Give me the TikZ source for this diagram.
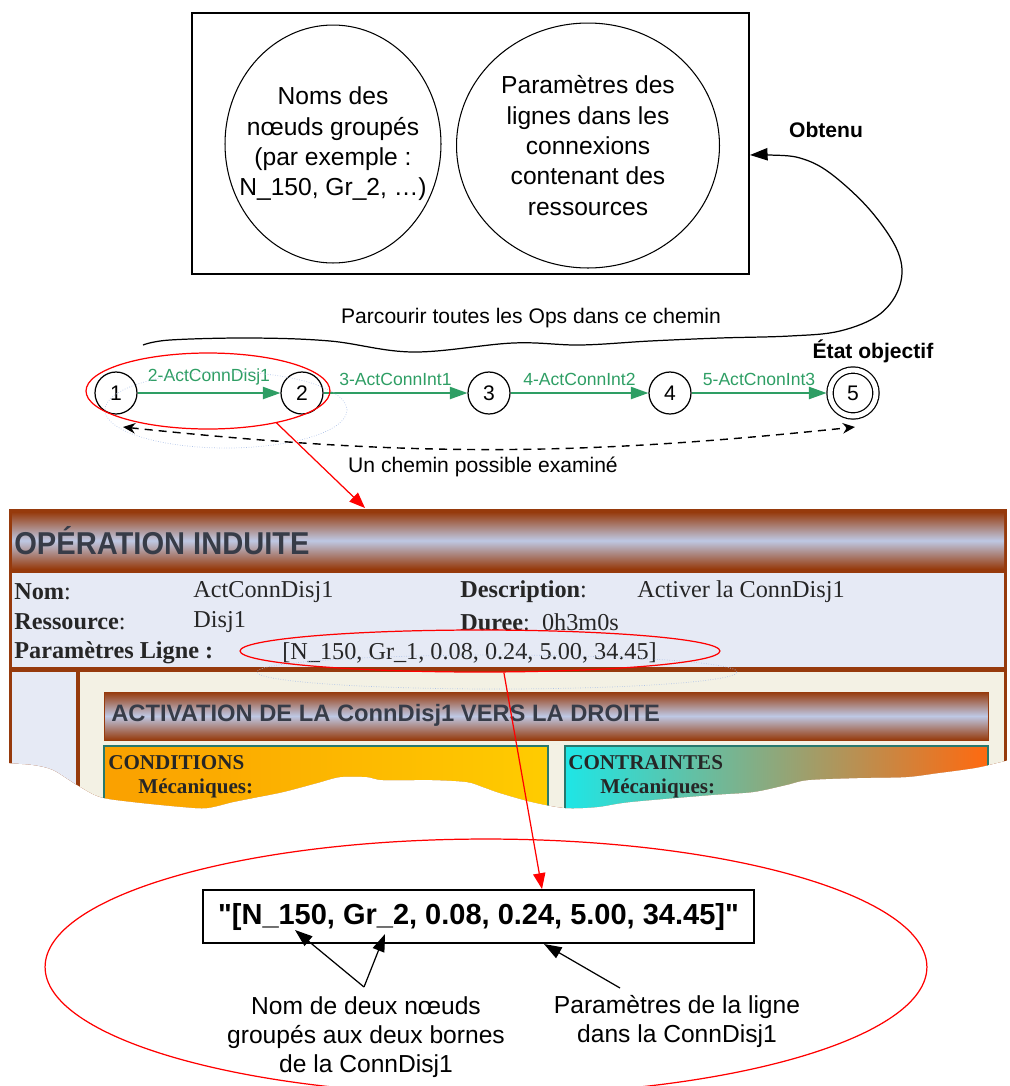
\documentclass[tikz,border=0pt]{standalone}
\usepackage{fontspec}
\setmainfont{Liberation Sans}
\newfontfamily\shotserif{Liberation Serif}
\newfontfamily\shotsans[FakeStretch=0.92]{Liberation Sans}
\newfontfamily\quotesans[Ligatures=TeXOff]{Liberation Sans}
\usetikzlibrary{arrows.meta,shapes.geometric}
\definecolor{opgreen}{RGB}{46,158,100}
\definecolor{shotbrown}{RGB}{150,58,12}
\definecolor{shotblue}{RGB}{190,200,228}
\definecolor{shotlav}{RGB}{230,234,245}
\definecolor{shotbeige}{RGB}{243,241,228}
\definecolor{shotink}{RGB}{55,60,72}
\definecolor{condorange}{RGB}{250,160,0}
\definecolor{condyellow}{RGB}{255,204,0}
\definecolor{ctcyan}{RGB}{30,230,230}
\definecolor{ctolive}{RGB}{180,160,100}
\definecolor{ctorange}{RGB}{255,105,15}
\definecolor{boxteal}{RGB}{40,120,110}
\definecolor{faintblue}{RGB}{175,195,232}

\begin{document}
\begin{tikzpicture}[x=0.02cm,y=-0.02cm,>={Triangle[length=10pt,width=7pt]},every node/.style={inner sep=0pt},
  state/.style={circle,draw,line width=0.7pt,minimum size=0.84cm,font=\fontsize{12}{14}\selectfont},
  goal/.style={state,double,double distance=0.1cm,minimum size=0.92cm,outer sep=0.07cm},
  opedge/.style={draw=opgreen,line width=0.8pt,-{Triangle[length=10pt,width=7pt]}},
  oplabel/.style={text=opgreen,font=\fontsize{10}{12}\selectfont,above=4pt},
  bubble/.style={ellipse,draw,line width=0.6pt},
  txt/.style={align=center,font=\fontsize{14}{17.3}\selectfont},
  note/.style={font=\fontsize{12}{14}\selectfont},
  hl/.style={ellipse,draw=red,line width=0.7pt},
  ghost/.style={ellipse,draw=faintblue,line width=0.4pt,densely dotted},
  redarr/.style={draw=red,line width=0.7pt,-{Triangle[length=9pt,width=7pt]}},
  back/.style={line width=0.8pt,dash pattern=on 4.5pt off 3.5pt,{Stealth[length=7pt,width=6pt]}-{Stealth[length=7pt,width=6pt]}},
  info/.style={anchor=west,text=black!85,font=\shotserif\fontsize{13.8}{16}\selectfont},
  boxhead/.style={anchor=west,text=black!85,font=\shotserif\bfseries\fontsize{12}{14}\selectfont}]
\useasboundingbox (0,0) rectangle (1009,1086);

\node[draw,line width=0.7pt,minimum width=11.14cm,minimum height=5.22cm] (panel) at (470.5,143.5) {};
\node[bubble,minimum width=4.32cm,minimum height=4.76cm] (names) at (333,144) {};
\node[bubble,minimum width=5.26cm,minimum height=4.9cm] (params) at (588,145.5) {};
\node[txt] (namestxt) at (names) {Noms des\\nœuds groupés\\(par exemple :\\N\_150, Gr\_2, …)};
\node[txt] (paramstxt) at (params) {Paramètres des\\lignes dans les\\connexions\\contenant des\\ressources};
\node[note,font=\fontsize{12}{14}\selectfont\bfseries] (obt) at (826,130) {Obtenu};
\node[note] (walk) at (531,318) {Parcourir toutes les Ops dans ce chemin};

\node[state] (n1) at (116,393) {1}; \node[state] (n2) at (302,393) {2}; \node[state] (n3) at (489,393) {3};
\node[state] (n4) at (670,393) {4}; \node[goal] (n5) at (853,393) {5};
\node[note,font=\fontsize{12}{14}\selectfont\bfseries] (goaltxt) at (873,351) {État objectif};
\draw[opedge] (n1) -- (n2) node[midway,oplabel] (e1) {2-ActConnDisj1};
\draw[opedge] (n2) -- (n3) node[midway,oplabel] (e2) {3-ActConnInt1};
\draw[opedge] (n3) -- (n4) node[midway,oplabel] (e3) {4-ActConnInt2};
\draw[opedge] (n4) -- (n5) node[midway,oplabel] (e4) {5-ActCnonInt3};
\node[ghost,minimum width=4.84cm,minimum height=1.52cm] (g1) at (226,410) {};
\node[hl,minimum width=4.88cm,minimum height=1.52cm] (hl1) at (208,391) {};
\coordinate (d1) at (123,427); \coordinate (d5) at (855,427);
\draw[back] (d1) to[bend right=6] (d5);
\node[note] (seen) at (483,467) {Un chemin possible examiné};
\draw[line width=0.7pt,->] plot[smooth,tension=0.6] coordinates {(143,345) (170,340) (250,338) (330,341) (413,352) (513,343) (580,345) (650,341) (720,338) (790,336) (840,331) (880,314) (900,285) (898,252) (870,210) (830,173) (800,158) (770,155) (750,155)};

\begin{scope}
\clip (6,500) -- (1009,500) -- plot[smooth] coordinates {(1009,760) (980,767) (961,770) (938,773) (906,777) (857,778) (808,780) (786,785) (753,792) (711,795) (630,802) (597,807) (565,808) (532,802) (500,793) (483,787) (467,782) (433,780) (383,780) (367,777) (340,777) (317,783) (283,792) (253,798) (233,802) (207,808) (183,807) (133,802) (100,797) (77,785) (53,770) (33,765) (6,763)} -- cycle;
\fill[shotbrown] (9,509) rectangle (1007,830);
\shade[top color=shotbrown,bottom color=shotbrown,middle color=shotblue] (12,512) rectangle (1004,569);
\fill[shotlav] (12,573) rectangle (1004,667);
\fill[shotlav] (12,672) rectangle (76,830);
\fill[shotbeige] (80,672) rectangle (1004,830);
\shade[top color=shotbrown,bottom color=shotbrown,middle color=shotblue,draw=shotbrown] (104,692) rectangle (988,740);
\shade[left color=condorange,right color=condyellow,draw=boxteal,line width=1pt] (104,746) rectangle (548,830);
\shade[left color=ctcyan,middle color=ctolive,right color=ctorange,draw=boxteal,line width=1pt] (565,746) rectangle (988,830);
\node[anchor=west,text=shotink,font=\shotsans\bfseries\fontsize{18}{20}\selectfont] (optitle) at (14,541) {OPÉRATION INDUITE};
\node[info] (k1) at (14,592) {\textbf{Nom}:}; \node[info] (v1) at (193,592) {ActConnDisj1};
\node[info] (k2) at (460,592) {\textbf{Description}:}; \node[info] (v2) at (637,592) {Activer la ConnDisj1};
\node[info] (k3) at (14,622) {\textbf{Ressource}:}; \node[info] (v3) at (193,622) {Disj1};
\node[info] (k4) at (460,622) {\textbf{Duree}:~~0h3m0s};
\node[info] (k5) at (14,653) {\textbf{Paramètres Ligne :}}; \node[info] (v5) at (282,653) {[N\_150, Gr\_1, 0.08, 0.24, 5.00, 34.45]};
\node[anchor=west,text=shotink,font=\bfseries\fontsize{13.5}{16}\selectfont] (acttitle) at (111,715) {ACTIVATION DE LA ConnDisj1 VERS LA DROITE};
\node[boxhead] (c1) at (108,763) {CONDITIONS}; \node[boxhead] (c2) at (138,788) {Mécaniques:};
\node[boxhead] (c3) at (568,763) {CONTRAINTES}; \node[boxhead] (c4) at (600,788) {Mécaniques:};
\end{scope}
\node[ghost,minimum width=9.6cm,minimum height=0.68cm] (g2) at (497,672) {};
\node[hl,minimum width=9.6cm,minimum height=0.84cm] (hl2) at (480,651) {};
\coordinate (shottop) at (365,508);
\draw[redarr] (hl1.-25) -- (shottop);

\node[hl,minimum width=17.64cm,minimum height=5.12cm] (hl3) at (486,967) {};
\node[draw,line width=0.7pt,minimum width=11.02cm,minimum height=1.06cm,font=\quotesans\bfseries\fontsize{16.5}{19}\selectfont] (resbox) at (478.5,916.5) {"[N\_150, Gr\_2, 0.08, 0.24, 5.00, 34.45]"};
\coordinate (tipA) at (542,889);
\draw[redarr] (hl2.-42) -- (tipA);
\node[txt,font=\fontsize{14}{16.5}\selectfont] (lab1) at (366,1037) {Nom de deux nœuds\\groupés aux deux bornes\\de la ConnDisj1};
\node[txt,font=\fontsize{14}{16.5}\selectfont] (lab2) at (677,1021) {Paramètres de la ligne\\dans la ConnDisj1};
\coordinate (fork) at (364,987); \coordinate (tipN) at (295,930); \coordinate (tipG) at (385,934);
\coordinate (forkP) at (620,988); \coordinate (tipP) at (544,944);
\draw[line width=0.7pt,->] (fork) -- (tipN);
\draw[line width=0.7pt,->] (fork) -- (tipG);
\draw[line width=0.7pt,->] (forkP) -- (tipP);
\end{tikzpicture}
\end{document}
